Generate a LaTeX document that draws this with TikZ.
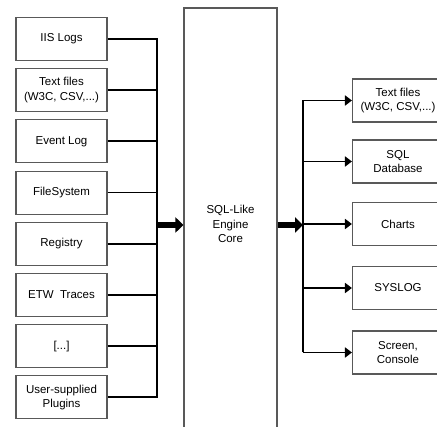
\documentclass[tikz,border=0pt]{standalone}
\usepackage{fontspec}
\setmainfont{Liberation Sans}
\usetikzlibrary{arrows.meta}
\begin{document}
\begin{tikzpicture}[x=1pt, y=-1pt, line width=1.8pt,
  box node/.style={rectangle, draw=black!65, line width=1.1pt, minimum width=91pt, minimum height=43pt, inner sep=1pt, align=center, font=\fontsize{11.5}{14.5}\selectfont},
  core node/.style={box node, minimum width=93pt, minimum height=432pt},
  big arrow/.style={line width=5.5pt, -{Triangle[length=8pt,width=15pt]}},
  thin arrow/.style={-{Triangle[length=7pt,width=10pt]}}]
\clip (0,0) rectangle (437,427);
\begin{scope}
\node[box node] (in1) at (61.5,39) {IIS Logs};
\node[box node] (in2) at (61.5,90.2) {Text files\\(W3C, CSV,...)};
\node[box node] (in3) at (61.5,141.4) {Event Log};
\node[box node] (in4) at (61.5,192.6) {FileSystem};
\node[box node] (in5) at (61.5,243.8) {Registry};
\node[box node] (in6) at (61.5,295) {ETW\ \ Traces};
\node[box node] (in7) at (61.5,346.2) {[...]};
\node[box node] (in8) at (61.5,397.4) {User-supplied\\Plugins};
\node[core node] (core) at (230.5,224) {SQL-Like\\Engine\\Core};
\node[box node] (out1) at (398,100.5) {Text files\\(W3C, CSV,...)};
\node[box node] (out2) at (398,161.5) {SQL\\Database};
\node[box node] (out3) at (398,224) {Charts};
\node[box node] (out4) at (398,288) {SYSLOG};
\node[box node] (out5) at (398,352.5) {Screen,\\Console};
\coordinate (lbus) at (157,0);
\coordinate (rbus) at (303,0);
\end{scope}
\begin{scope}
\draw (in1.east) -- (in1.east -| lbus) -- (in8.east -| lbus) -- (in8.east);
\draw (in2.east) -- (in2.east -| lbus);
\draw (in3.east) -- (in3.east -| lbus);
\draw (in4.east) -- (in4.east -| lbus);
\draw (in5.east) -- (in5.east -| lbus);
\draw (in6.east) -- (in6.east -| lbus);
\draw (in7.east) -- (in7.east -| lbus);
\draw[big arrow] ([yshift=-1pt]core.west -| lbus) -- ([yshift=-1pt]core.west);
\draw[big arrow] ([yshift=-1pt]core.east) -- ([yshift=-1pt]core.east -| rbus);
\draw[thin arrow] (out5.west -| rbus) -- (out1.west -| rbus) -- (out1.west);
\draw[thin arrow] (out2.west -| rbus) -- (out2.west);
\draw[thin arrow] (out3.west -| rbus) -- (out3.west);
\draw[thin arrow] (out4.west -| rbus) -- (out4.west);
\draw[thin arrow] (out5.west -| rbus) -- (out5.west);
\end{scope}
\end{tikzpicture}
\end{document}
